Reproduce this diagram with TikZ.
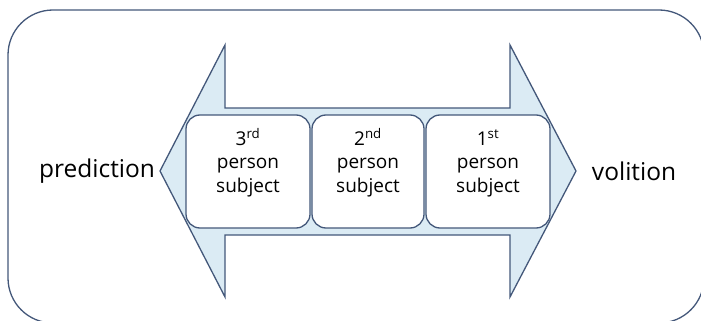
\documentclass[tikz,border=0pt]{standalone}
\usepackage{fontspec}
\setmainfont{Open Sans}
\usetikzlibrary{positioning}
\definecolor{edge}{RGB}{68,88,122}
\definecolor{arrowfill}{RGB}{219,235,244}

\begin{document}
\begin{tikzpicture}
    [x=1pt,y=-1pt,line width=1.3pt,
     subject/.style={draw=edge,fill=white,rounded corners=14pt,
       minimum height=113pt,inner sep=0pt,outer sep=0pt},
     caption/.style={align=center,inner sep=0pt,
       font=\fontsize{19}{23.5}\selectfont},
     side/.style={font=\fontsize{24.5}{28}\selectfont}]
\useasboundingbox (0,0) rectangle (701,321);
\clip (0,0) rectangle (701,321);
% outer frame, cut by the page on the right and below
\draw [edge,rounded corners=45pt] (8,10) rectangle (704,323);
% the double arrow
\draw [edge,fill=arrowfill,line join=miter]
    (160,171) coordinate (ltip) -- (225,45) -- (225,108) -- (510,108) --
    (510,45) -- (576,171) coordinate (rtip) -- (510,297) -- (510,235) --
    (225,235) -- (225,297) -- cycle;
\path
    (248,171.5) node [subject,minimum width=124pt] (third) {}
    (third.east) node [subject,minimum width=112pt,anchor=west,xshift=2pt] (second) {}
    (second.east) node [subject,minimum width=124pt,anchor=west,xshift=2pt] (first) {};
\path
    (third.north) node [caption,below,yshift=-13pt] (thirdtext)
        {3\textsuperscript{rd}\\person\\subject}
    (second.north) node [caption,below,yshift=-13pt] (secondtext)
        {2\textsuperscript{nd}\\person\\subject}
    (first.north) node [caption,below,yshift=-13pt] (firsttext)
        {1\textsuperscript{st\vphantom{d}}\\person\\subject};
\node [side,left=1pt of ltip] (prediction) {prediction};
\node [side,right=12pt of rtip] (volition) {volition};
\end{tikzpicture}
\end{document}
